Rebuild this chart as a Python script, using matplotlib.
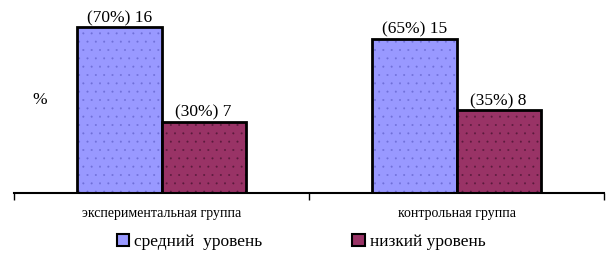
import numpy as np
import matplotlib.pyplot as plt
from matplotlib.patches import Patch

plt.rcParams['font.family'] = ['Liberation Serif', 'DejaVu Serif']
plt.rcParams['hatch.linewidth'] = 0.2

groups = ['экспериментальная группа', 'контрольная группа']
series = ['средний  уровень', 'низкий уровень']
percents = [[70, 65], [30, 35]]
counts = [[16, 15], [7, 8]]
colors = ['#9999FF', '#993366']
dot_colors = ['#6F6FD8', '#5A1A3C']

fig = plt.figure(figsize=(6.12, 2.64), dpi=100)
ax = fig.add_axes([14 / 612, 71 / 264, 590 / 612, 193 / 264])

x = np.arange(len(groups))
w = 0.286
for i in range(len(series)):
    pos = x + (i - 0.5) * w
    ax.bar(pos, percents[i], w, color=colors[i], edgecolor=dot_colors[i],
           hatch='..', linewidth=0)
    ax.bar(pos, percents[i], w, fill=False, edgecolor='black', linewidth=2)
    for p, v, c in zip(pos, percents[i], counts[i]):
        ax.text(p, v + 0.5, f'({v}%) {c}', ha='center', va='bottom', fontsize=12.5)

ax.set_xlim(-0.5, 1.5)
ax.set_ylim(0, 81.5)
for s in ['top', 'right', 'left']:
    ax.spines[s].set_visible(False)
ax.spines['bottom'].set_linewidth(1.5)
ax.set_yticks([])
ax.set_xticks(x)
ax.set_xticklabels(groups, fontsize=10)
ax.tick_params(axis='x', which='major', length=0, pad=10)
ax.set_xticks([-0.5, 0.5, 1.5], minor=True)
ax.tick_params(axis='x', which='minor', length=5, width=1, direction='out')

fig.text(32 / 612, 1 - 100 / 264, '%', fontsize=12.5, va='center')

handles = [Patch(facecolor=colors[i], edgecolor='black', linewidth=1.5) for i in range(len(series))]
fig.legend(handles, series, loc='center', bbox_to_anchor=(301 / 612, 1 - 242 / 264),
           ncol=2, frameon=False, fontsize=12.5, handlelength=0.7, handleheight=0.7,
           handletextpad=0.3, columnspacing=5.2)

fig.savefig('out.png', dpi=100)
